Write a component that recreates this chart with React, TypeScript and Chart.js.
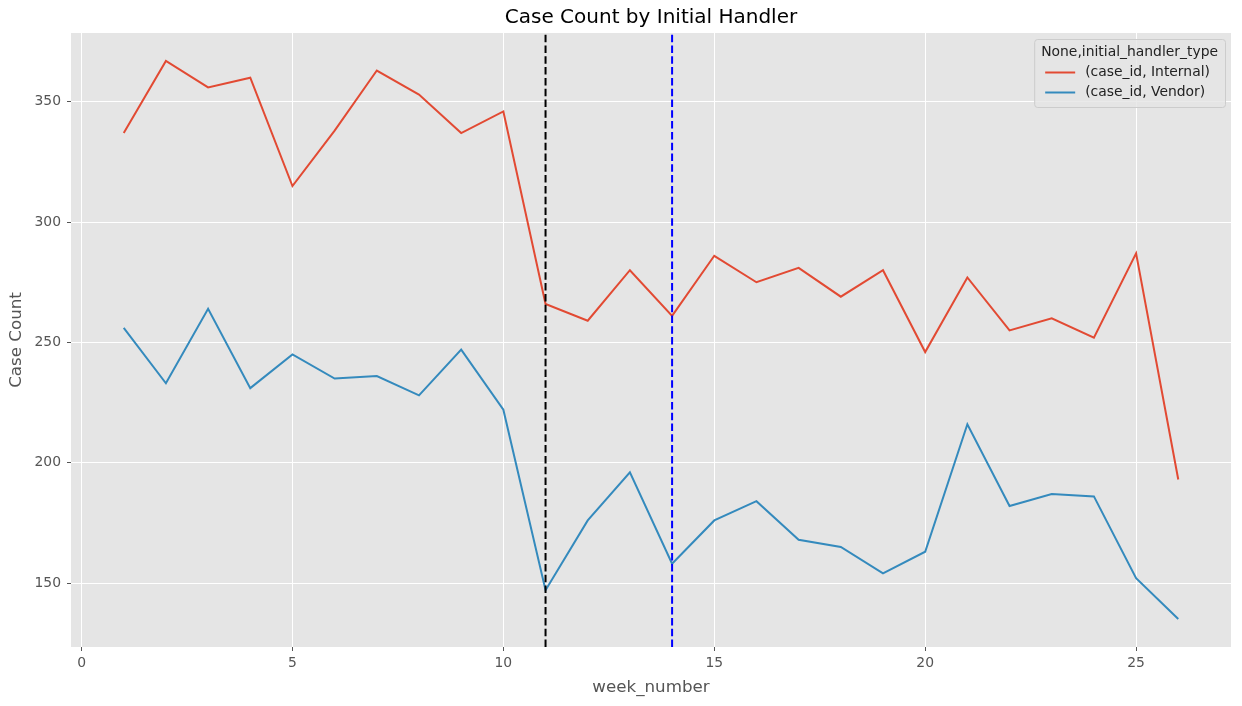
import { useEffect, useRef } from "react"
import { Chart, registerables, type ChartConfiguration, type Plugin } from "chart.js"

Chart.register(...registerables)

// week numbers on the x axis
const weeks = [1, 2, 3, 4, 5, 6, 7, 8, 9, 10, 11, 12, 13, 14, 15, 16, 17, 18, 19, 20, 21, 22, 23, 24, 25, 26]

// case counts per week
const internalCounts = [337, 367, 356, 360, 315, 338, 363, 353, 337, 346, 266, 259, 280, 261, 286, 275, 281, 269, 280, 246, 277, 255, 260, 252, 287, 193]
const vendorCounts = [256, 233, 264, 231, 245, 235, 236, 228, 247, 222, 147, 176, 196, 158, 176, 184, 168, 165, 154, 163, 216, 182, 187, 186, 152, 135]

const seriesLabels = ["(case_id, Internal)", "(case_id, Vendor)"]
const legendTitle = "None,initial_handler_type"

// marker lines
const markerWeeks = [11, 14]
const markerColors = ["#000000", "#0000ff"]

const xTicks = [0, 5, 10, 15, 20, 25]
const yTicks = [150, 200, 250, 300, 350]

const RED = "#E24A33"
const BLUE = "#348ABD"
const FONT = "'DejaVu Sans', sans-serif"

// grey panel behind the plot, like ggplot style
const panelBackground: Plugin = {
  id: "panelBackground",
  beforeDraw(chart) {
    const { ctx, chartArea } = chart
    ctx.save()
    ctx.fillStyle = "#E5E5E5"
    ctx.fillRect(chartArea.left, chartArea.top, chartArea.right - chartArea.left, chartArea.bottom - chartArea.top)
    ctx.restore()
  },
}

// dashed vertical lines
const markerLines: Plugin = {
  id: "markerLines",
  afterDatasetsDraw(chart) {
    const { ctx, chartArea, scales } = chart
    ctx.save()
    ctx.lineWidth = 2
    ctx.setLineDash([7.5, 3.3])
    markerWeeks.forEach((w, i) => {
      const x = scales.x.getPixelForValue(w)
      ctx.strokeStyle = markerColors[i]
      ctx.beginPath()
      ctx.moveTo(x, chartArea.bottom)
      ctx.lineTo(x, chartArea.top)
      ctx.stroke()
    })
    ctx.restore()
  },
}

// matplotlib-like legend inside the plot, upper right
const insideLegend: Plugin = {
  id: "insideLegend",
  afterDraw(chart) {
    const { ctx, chartArea } = chart
    const colors = [RED, BLUE]
    ctx.save()
    ctx.font = `13.9px ${FONT}`
    const titleW = ctx.measureText(legendTitle).width
    const textW = Math.max(...seriesLabels.map((s) => ctx.measureText(s).width))
    const pad = 7
    const w = Math.max(titleW, 40 + textW) + pad * 2
    const h = 68
    const right = chartArea.right - 6
    const top = chartArea.top + 6
    const left = right - w

    ctx.beginPath()
    ctx.roundRect(left + 0.5, top + 0.5, w, h, 3)
    ctx.fillStyle = "rgba(229,229,229,0.8)"
    ctx.fill()
    ctx.strokeStyle = "#cccccc"
    ctx.lineWidth = 1
    ctx.stroke()

    ctx.fillStyle = "#222"
    ctx.textBaseline = "middle"
    ctx.textAlign = "center"
    ctx.fillText(legendTitle, left + w / 2, top + 13.5)

    ctx.textAlign = "left"
    seriesLabels.forEach((label, i) => {
      const y = top + 33.5 + i * 20
      ctx.strokeStyle = colors[i]
      ctx.lineWidth = 2
      ctx.beginPath()
      ctx.moveTo(left + 11, y)
      ctx.lineTo(left + 41, y)
      ctx.stroke()
      ctx.fillStyle = "#222"
      ctx.fillText(label, left + 51, y)
    })
    ctx.restore()
  },
}

export default function App() {
  const chartRef = useRef<HTMLCanvasElement>(null)
  const chartInstance = useRef<Chart | null>(null)

  useEffect(() => {
    if (!chartRef.current) return
    const ctx = chartRef.current.getContext("2d")
    if (!ctx) return

    if (chartInstance.current) {
      chartInstance.current.destroy()
    }

    const config: ChartConfiguration<"line"> = {
      type: "line",
      data: {
        datasets: [
          {
            label: seriesLabels[0],
            data: weeks.map((w, i) => ({ x: w, y: internalCounts[i] })),
            borderColor: RED,
            backgroundColor: RED,
            borderWidth: 2,
            pointRadius: 0,
            tension: 0,
          },
          {
            label: seriesLabels[1],
            data: weeks.map((w, i) => ({ x: w, y: vendorCounts[i] })),
            borderColor: BLUE,
            backgroundColor: BLUE,
            borderWidth: 2,
            pointRadius: 0,
            tension: 0,
          },
        ],
      },
      options: {
        responsive: false,
        animation: false,
        devicePixelRatio: 1,
        layout: { padding: { left: 0, right: 11, top: 0, bottom: 0 } },
        plugins: {
          legend: { display: false },
          tooltip: { enabled: false },
          title: {
            display: true,
            text: "Case Count by Initial Handler",
            color: "#000",
            fullSize: false,
            font: { family: FONT, size: 20, weight: "normal" },
            padding: { top: 6, bottom: 3 },
          },
        },
        scales: {
          x: {
            type: "linear",
            min: -0.25,
            max: 27.25,
            afterBuildTicks: (scale) => {
              scale.ticks = xTicks.map((value) => ({ value }))
            },
            afterFit: (scale) => {
              scale.height = 59
            },
            grid: { color: "#ffffff", lineWidth: 1, tickColor: "#555555", tickLength: 4 },
            border: { display: false },
            ticks: {
              color: "#555555",
              padding: 4,
              maxRotation: 0,
              autoSkip: false,
              font: { family: FONT, size: 13.9 },
            },
            title: {
              display: true,
              text: "week_number",
              color: "#555555",
              font: { family: FONT, size: 16.7 },
              padding: { top: 0, bottom: 8 },
            },
          },
          y: {
            type: "linear",
            min: 123.4,
            max: 378.6,
            afterBuildTicks: (scale) => {
              scale.ticks = yTicks.map((value) => ({ value }))
            },
            afterFit: (scale) => {
              scale.width = 71
            },
            grid: { color: "#ffffff", lineWidth: 1, tickColor: "#555555", tickLength: 4 },
            border: { display: false },
            ticks: {
              color: "#555555",
              padding: 6,
              font: { family: FONT, size: 13.9 },
            },
            title: {
              display: true,
              text: "Case Count",
              color: "#555555",
              font: { family: FONT, size: 16.7 },
              padding: { top: 7, bottom: 0 },
            },
          },
        },
      },
      plugins: [panelBackground, markerLines, insideLegend],
    }

    chartInstance.current = new Chart(ctx, config)

    return () => {
      if (chartInstance.current) {
        chartInstance.current.destroy()
        chartInstance.current = null
      }
    }
  }, [])

  return (
    <div style={{ position: "fixed", left: 0, top: 0, width: 1242, height: 706, background: "#fff" }}>
      <canvas ref={chartRef} width={1242} height={706} />
    </div>
  )
}
